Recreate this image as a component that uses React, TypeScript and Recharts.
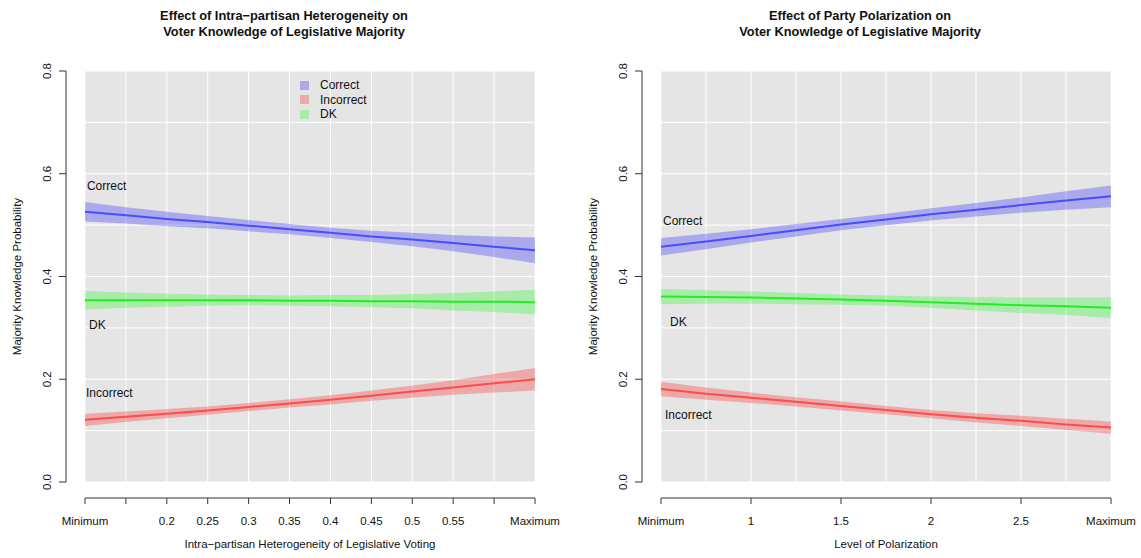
import React from "react";
import {
  ComposedChart,
  Area,
  Line,
  XAxis,
  YAxis,
  CartesianGrid,
  ReferenceLine,
  ReferenceDot,
} from "recharts";

const FONT = "'Liberation Sans', Arial, Helvetica, sans-serif";

// left panel: intra-partisan heterogeneity
const heteroX = [0.1, 0.15, 0.2, 0.25, 0.3, 0.35, 0.4, 0.45, 0.5, 0.55, 0.6, 0.65];
const heteroLabels = ["Minimum", "", "0.2", "0.25", "0.3", "0.35", "0.4", "0.45", "0.5", "0.55", "", "Maximum"];
const heteroCorrect = [0.526, 0.519, 0.512, 0.506, 0.499, 0.492, 0.485, 0.478, 0.472, 0.465, 0.458, 0.451];
const heteroCorrectLo = [0.507, 0.503, 0.498, 0.494, 0.488, 0.482, 0.475, 0.467, 0.459, 0.449, 0.438, 0.426];
const heteroCorrectHi = [0.545, 0.535, 0.526, 0.518, 0.51, 0.502, 0.495, 0.489, 0.485, 0.481, 0.478, 0.476];
const heteroDK = [0.354, 0.354, 0.354, 0.354, 0.354, 0.353, 0.353, 0.352, 0.352, 0.351, 0.351, 0.35];
const heteroDKLo = [0.336, 0.339, 0.341, 0.343, 0.344, 0.343, 0.342, 0.34, 0.338, 0.334, 0.331, 0.326];
const heteroDKHi = [0.372, 0.369, 0.367, 0.365, 0.364, 0.363, 0.364, 0.364, 0.366, 0.368, 0.371, 0.374];
const heteroIncorrect = [0.121, 0.127, 0.133, 0.139, 0.146, 0.153, 0.16, 0.168, 0.176, 0.184, 0.192, 0.2];
const heteroIncorrectLo = [0.109, 0.117, 0.124, 0.131, 0.138, 0.145, 0.151, 0.158, 0.164, 0.17, 0.174, 0.178];
const heteroIncorrectHi = [0.133, 0.137, 0.142, 0.147, 0.154, 0.161, 0.169, 0.178, 0.188, 0.198, 0.21, 0.222];

// right panel: party polarization
const polarX = [0.5, 0.75, 1, 1.25, 1.5, 1.75, 2, 2.25, 2.5, 2.75, 3];
const polarTicks = [0.5, 1, 1.5, 2, 2.5, 3];
const polarLabels = ["Minimum", "1", "1.5", "2", "2.5", "Maximum"];
const polarCorrect = [0.458, 0.468, 0.479, 0.49, 0.501, 0.511, 0.521, 0.53, 0.539, 0.548, 0.556];
const polarCorrectLo = [0.441, 0.453, 0.466, 0.478, 0.49, 0.5, 0.509, 0.517, 0.524, 0.53, 0.535];
const polarCorrectHi = [0.475, 0.483, 0.492, 0.502, 0.512, 0.522, 0.533, 0.543, 0.554, 0.566, 0.577];
const polarDK = [0.361, 0.36, 0.359, 0.357, 0.355, 0.353, 0.35, 0.347, 0.344, 0.342, 0.339];
const polarDKLo = [0.346, 0.347, 0.347, 0.346, 0.345, 0.343, 0.339, 0.334, 0.329, 0.325, 0.319];
const polarDKHi = [0.376, 0.373, 0.371, 0.368, 0.365, 0.363, 0.361, 0.36, 0.359, 0.359, 0.359];
const polarIncorrect = [0.181, 0.172, 0.164, 0.156, 0.148, 0.14, 0.132, 0.125, 0.119, 0.112, 0.106];
const polarIncorrectLo = [0.167, 0.16, 0.154, 0.147, 0.139, 0.132, 0.124, 0.116, 0.109, 0.101, 0.094];
const polarIncorrectHi = [0.195, 0.184, 0.174, 0.165, 0.157, 0.148, 0.14, 0.134, 0.129, 0.123, 0.118];

const yTicks = [0, 0.2, 0.4, 0.6, 0.8];
const yGrid = [0, 0.1, 0.2, 0.3, 0.4, 0.5, 0.6, 0.7, 0.8];

const SERIES = [
  { key: "correct", name: "Correct", line: "#4b4bff", band: "#0000ff" },
  { key: "incorrect", name: "Incorrect", line: "#ff4b4b", band: "#ff0000" },
  { key: "dk", name: "DK", line: "#22ee22", band: "#00ff00" },
];

const heteroNotes = [
  { text: "Correct", x: 0.1024, y: 0.576 },
  { text: "DK", x: 0.1049, y: 0.305 },
  { text: "Incorrect", x: 0.1012, y: 0.173 },
];
const polarNotes = [
  { text: "Correct", x: 0.511, y: 0.508 },
  { text: "DK", x: 0.55, y: 0.312 },
  { text: "Incorrect", x: 0.522, y: 0.13 },
];

function buildRows(xs, c, cl, ch, d, dl, dh, i, il, ih) {
  return xs.map((x, k) => ({
    x,
    correct: c[k],
    correctBand: [cl[k], ch[k]],
    dk: d[k],
    dkBand: [dl[k], dh[k]],
    incorrect: i[k],
    incorrectBand: [il[k], ih[k]],
  }));
}

const heteroRows = buildRows(heteroX, heteroCorrect, heteroCorrectLo, heteroCorrectHi, heteroDK, heteroDKLo, heteroDKHi, heteroIncorrect, heteroIncorrectLo, heteroIncorrectHi);
const polarRows = buildRows(polarX, polarCorrect, polarCorrectLo, polarCorrectHi, polarDK, polarDKLo, polarDKHi, polarIncorrect, polarIncorrectLo, polarIncorrectHi);

const H = 558;
const PLOT_LEFT = 85;
const PLOT_RIGHT = 535;
const PLOT_TOP = 71;
const PLOT_BOTTOM = 482;
const AXIS_COLOR = "#333";

function Panel({ left, width, title, xTitle, rows, xTicks, xLabels, xGrid, notes, legend }) {
  const xMin = xTicks[0];
  const xMax = xTicks[xTicks.length - 1];

  const xTick = (p) => (
    <g>
      <line x1={p.x} x2={p.x} y1={PLOT_BOTTOM + 16} y2={PLOT_BOTTOM + 22} stroke={AXIS_COLOR} />
      <text x={p.x} y={PLOT_BOTTOM + 39} textAnchor="middle" dominantBaseline="central" fontSize={11.5} fill="#111">
        {xLabels[p.index]}
      </text>
    </g>
  );

  const yTick = (p) => {
    const lx = PLOT_LEFT - 38;
    return (
      <g>
        <line x1={PLOT_LEFT - 26} x2={PLOT_LEFT - 19} y1={p.y} y2={p.y} stroke={AXIS_COLOR} />
        <text x={lx} y={p.y} transform={`rotate(-90 ${lx} ${p.y})`} textAnchor="middle" dominantBaseline="central" fontSize={11.5} fill="#111">
          {Number(p.payload.value).toFixed(1)}
        </text>
      </g>
    );
  };

  return (
    <div style={{ position: "absolute", left, top: 0, width, height: H, fontFamily: FONT }}>
      <ComposedChart
        width={width}
        height={H}
        data={rows}
        margin={{ top: PLOT_TOP, right: width - PLOT_RIGHT, bottom: 16, left: 0 }}
        style={{ fontFamily: FONT }}
      >
        <CartesianGrid
          fill="#e5e5e5"
          stroke="#ffffff"
          strokeWidth={1}
          horizontalValues={yGrid}
          verticalValues={xGrid}
        />
        <XAxis
          type="number"
          dataKey="x"
          domain={[xMin, xMax]}
          ticks={xTicks}
          interval={0}
          tick={xTick}
          axisLine={false}
          tickLine={false}
          height={60}
          allowDataOverflow
          label={{
            content: () => (
              <text x={(PLOT_LEFT + PLOT_RIGHT) / 2} y={PLOT_BOTTOM + 62} textAnchor="middle" dominantBaseline="central" fontSize={11.5} fill="#111">
                {xTitle}
              </text>
            ),
          }}
        />
        <YAxis
          type="number"
          domain={[0, 0.8]}
          ticks={yTicks}
          interval={0}
          tick={yTick}
          axisLine={false}
          tickLine={false}
          width={PLOT_LEFT}
          allowDataOverflow
          label={{
            content: () => {
              const cx = 17;
              const cy = (PLOT_TOP + PLOT_BOTTOM) / 2;
              return (
                <text x={cx} y={cy} transform={`rotate(-90 ${cx} ${cy})`} textAnchor="middle" dominantBaseline="central" fontSize={11.5} fill="#111">
                  Majority Knowledge Probability
                </text>
              );
            },
          }}
        />
        <ReferenceLine
          segment={[{ x: xMin, y: 0 }, { x: xMax, y: 0 }]}
          shape={(p) => <line x1={p.x1} x2={p.x2} y1={p.y1 + 16} y2={p.y2 + 16} stroke={AXIS_COLOR} strokeWidth={1} />}
        />
        <ReferenceLine
          segment={[{ x: xMin, y: 0 }, { x: xMin, y: 0.8 }]}
          shape={(p) => <line x1={p.x1 - 19} x2={p.x2 - 19} y1={p.y1} y2={p.y2} stroke={AXIS_COLOR} strokeWidth={1} />}
        />
        {SERIES.map((s) => (
          <Area
            key={s.key + "Band"}
            dataKey={s.key + "Band"}
            type="linear"
            stroke="none"
            fill={s.band}
            fillOpacity={0.26}
            isAnimationActive={false}
            activeDot={false}
          />
        ))}
        {SERIES.map((s) => (
          <Line
            key={s.key}
            dataKey={s.key}
            type="linear"
            stroke={s.line}
            strokeWidth={2}
            dot={false}
            activeDot={false}
            isAnimationActive={false}
          />
        ))}
        {notes.map((n) => (
          <ReferenceDot
            key={n.text}
            x={n.x}
            y={n.y}
            r={0}
            fill="none"
            stroke="none"
            label={{
              content: (p) => (
                <text x={p.viewBox.x} y={p.viewBox.y} textAnchor="start" dominantBaseline="central" fontSize={12} fill="#111">
                  {n.text}
                </text>
              ),
            }}
          />
        ))}
      </ComposedChart>
      <div
        style={{
          position: "absolute",
          left: 84,
          width: 400,
          top: 7.5,
          textAlign: "center",
          fontWeight: "bold",
          fontSize: 12.8,
          lineHeight: "16.5px",
          color: "#111",
        }}
      >
        {title.map((t) => (
          <div key={t}>{t}</div>
        ))}
      </div>
      {legend && (
        <div style={{ position: "absolute", left: 300, top: 77.75, fontSize: 12, color: "#111" }}>
          {SERIES.map((s) => (
            <div key={s.key} style={{ display: "flex", alignItems: "center", height: 14.5 }}>
              <div style={{ width: 9, height: 9, background: s.band, opacity: 0.26, marginRight: 11 }} />
              <span>{s.name}</span>
            </div>
          ))}
        </div>
      )}
    </div>
  );
}

export default function App() {
  return (
    <div style={{ position: "absolute", left: 0, top: 0, width: 1141, height: H, background: "#fff", overflow: "hidden" }}>
      <Panel
        left={0}
        width={570}
        title={["Effect of Intra\u2212partisan Heterogeneity on", "Voter Knowledge of Legislative Majority"]}
        xTitle={"Intra\u2212partisan Heterogeneity of Legislative Voting"}
        rows={heteroRows}
        xTicks={heteroX}
        xLabels={heteroLabels}
        xGrid={heteroX}
        notes={heteroNotes}
        legend
      />
      <Panel
        left={576}
        width={565}
        title={["Effect of Party Polarization on", "Voter Knowledge of Legislative Majority"]}
        xTitle="Level of Polarization"
        rows={polarRows}
        xTicks={polarTicks}
        xLabels={polarLabels}
        xGrid={polarX}
        notes={polarNotes}
        legend={false}
      />
    </div>
  );
}
